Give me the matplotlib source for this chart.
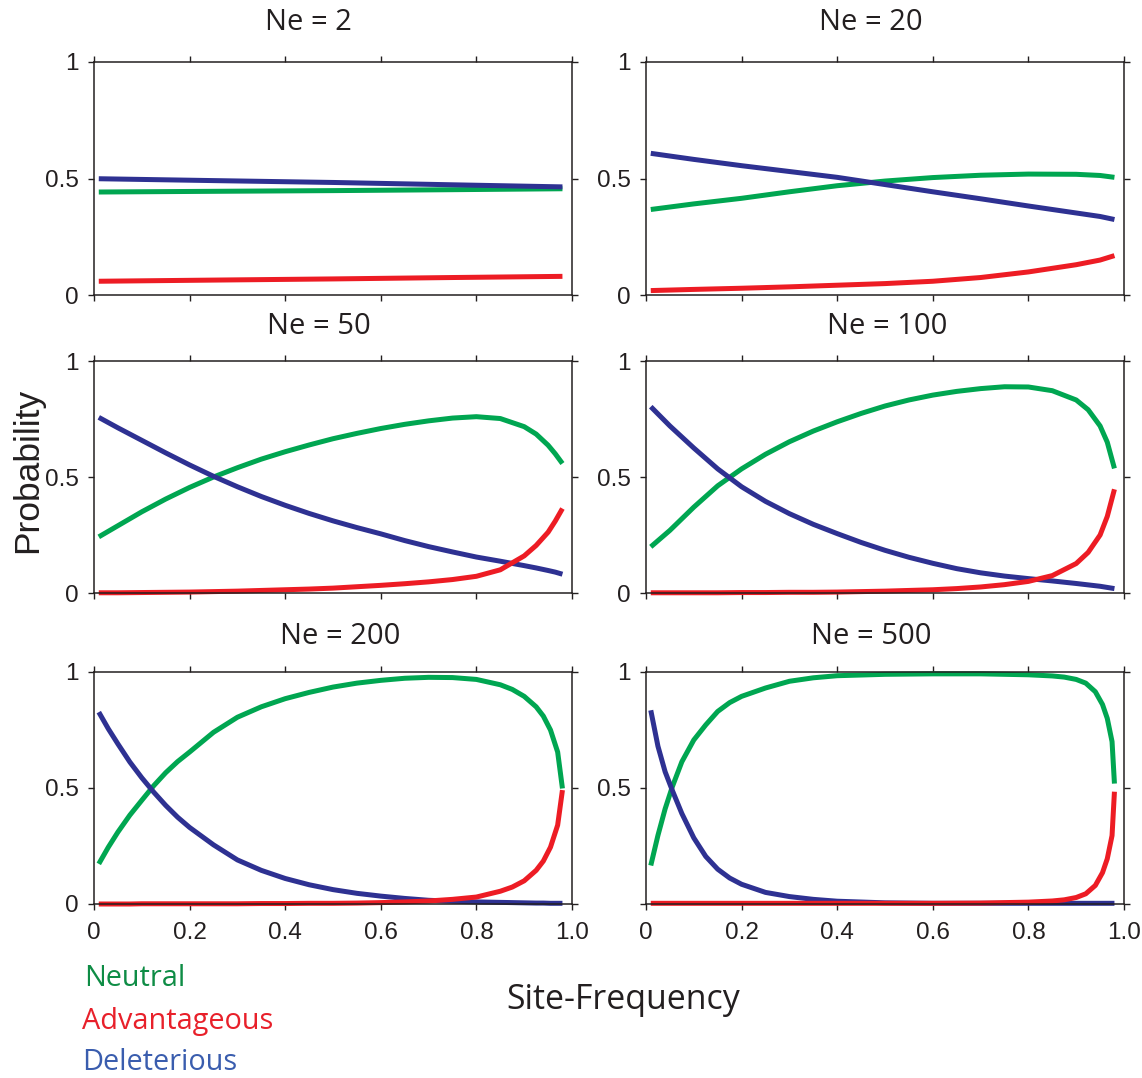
import numpy as np
import matplotlib.pyplot as plt

# probability curves per effective population size
x_ne2 = [0.01, 0.25, 0.5, 0.75, 0.98]
neu_ne2 = [0.442, 0.445, 0.448, 0.452, 0.456]
adv_ne2 = [0.059, 0.064, 0.069, 0.075, 0.080]
del_ne2 = [0.499, 0.491, 0.483, 0.473, 0.464]

x_ne20 = [0.01, 0.1, 0.2, 0.3, 0.4, 0.5, 0.6, 0.7, 0.8, 0.9, 0.95, 0.98]
neu_ne20 = [0.367, 0.391, 0.415, 0.443, 0.469, 0.489, 0.504, 0.514, 0.519, 0.518, 0.513, 0.505]
adv_ne20 = [0.019, 0.024, 0.029, 0.035, 0.042, 0.049, 0.059, 0.075, 0.099, 0.130, 0.150, 0.169]
del_ne20 = [0.608, 0.582, 0.555, 0.530, 0.505, 0.474, 0.443, 0.413, 0.382, 0.352, 0.337, 0.324]

x_ne50 = [0.01, 0.05, 0.1, 0.15, 0.2, 0.25, 0.3, 0.35, 0.4, 0.45, 0.5, 0.55, 0.6, 0.65,
          0.7, 0.75, 0.8, 0.85, 0.9, 0.925, 0.95, 0.965, 0.98]
neu_ne50 = [0.242, 0.290, 0.350, 0.405, 0.455, 0.500, 0.540, 0.577, 0.609, 0.638, 0.665,
            0.688, 0.709, 0.727, 0.742, 0.754, 0.760, 0.752, 0.717, 0.685, 0.637, 0.600, 0.558]
adv_ne50 = [0.001, 0.001, 0.002, 0.003, 0.004, 0.006, 0.008, 0.011, 0.014, 0.017, 0.021,
            0.027, 0.033, 0.040, 0.048, 0.058, 0.072, 0.100, 0.160, 0.205, 0.262, 0.310, 0.364]
del_ne50 = [0.757, 0.712, 0.658, 0.604, 0.552, 0.503, 0.458, 0.416, 0.378, 0.343, 0.311,
            0.282, 0.255, 0.226, 0.200, 0.177, 0.155, 0.137, 0.118, 0.108, 0.097, 0.090, 0.081]

x_ne100 = [0.01, 0.05, 0.1, 0.15, 0.2, 0.25, 0.3, 0.35, 0.4, 0.45, 0.5, 0.55, 0.6, 0.65,
           0.7, 0.75, 0.8, 0.85, 0.9, 0.925, 0.95, 0.965, 0.98]
neu_ne100 = [0.199, 0.270, 0.370, 0.462, 0.535, 0.598, 0.652, 0.698, 0.738, 0.774, 0.806,
             0.832, 0.853, 0.869, 0.881, 0.889, 0.888, 0.872, 0.832, 0.790, 0.720, 0.650, 0.537]
adv_ne100 = [0.001, 0.001, 0.001, 0.001, 0.002, 0.002, 0.003, 0.003, 0.004, 0.006, 0.008,
             0.011, 0.014, 0.019, 0.026, 0.036, 0.050, 0.075, 0.127, 0.175, 0.250, 0.330, 0.447]
del_ne100 = [0.803, 0.720, 0.625, 0.535, 0.458, 0.395, 0.342, 0.296, 0.256, 0.218, 0.184,
             0.154, 0.128, 0.105, 0.087, 0.073, 0.062, 0.052, 0.041, 0.035, 0.029, 0.024, 0.019]

x_ne200 = [0.01, 0.03, 0.05, 0.075, 0.1, 0.125, 0.15, 0.175, 0.2, 0.25, 0.3, 0.35, 0.4,
           0.45, 0.5, 0.55, 0.6, 0.65, 0.7, 0.75, 0.8, 0.85, 0.875, 0.9, 0.925, 0.94,
           0.955, 0.97, 0.98]
neu_ne200 = [0.173, 0.245, 0.310, 0.383, 0.447, 0.510, 0.566, 0.614, 0.655, 0.740, 0.805,
             0.850, 0.885, 0.912, 0.935, 0.952, 0.964, 0.973, 0.977, 0.976, 0.968, 0.945,
             0.925, 0.895, 0.850, 0.810, 0.750, 0.655, 0.498]
adv_ne200 = [0.000, 0.000, 0.000, 0.000, 0.001, 0.001, 0.001, 0.001, 0.001, 0.001, 0.001,
             0.002, 0.002, 0.003, 0.003, 0.004, 0.006, 0.009, 0.013, 0.020, 0.030, 0.055,
             0.073, 0.100, 0.145, 0.185, 0.245, 0.340, 0.491]
del_ne200 = [0.827, 0.755, 0.690, 0.612, 0.544, 0.482, 0.425, 0.374, 0.330, 0.255, 0.190,
             0.145, 0.110, 0.083, 0.062, 0.046, 0.034, 0.024, 0.016, 0.012, 0.009, 0.007,
             0.006, 0.005, 0.004, 0.004, 0.003, 0.003, 0.003]

x_ne500 = [0.01, 0.025, 0.04, 0.055, 0.075, 0.1, 0.125, 0.15, 0.175, 0.2, 0.25, 0.3, 0.35,
           0.4, 0.5, 0.6, 0.7, 0.8, 0.85, 0.875, 0.9, 0.92, 0.94, 0.955, 0.965, 0.975, 0.98]
neu_ne500 = [0.166, 0.296, 0.410, 0.505, 0.613, 0.707, 0.772, 0.830, 0.868, 0.895, 0.931,
             0.960, 0.975, 0.984, 0.990, 0.992, 0.992, 0.988, 0.983, 0.978, 0.968, 0.952,
             0.915, 0.860, 0.800, 0.700, 0.519]
adv_ne500 = [0.003, 0.003, 0.003, 0.003, 0.003, 0.003, 0.003, 0.003, 0.003, 0.003, 0.003,
             0.003, 0.003, 0.003, 0.003, 0.003, 0.004, 0.008, 0.013, 0.018, 0.028, 0.044,
             0.080, 0.135, 0.195, 0.295, 0.484]
del_ne500 = [0.835, 0.680, 0.570, 0.490, 0.390, 0.285, 0.205, 0.150, 0.112, 0.085, 0.050,
             0.032, 0.020, 0.012, 0.005, 0.003, 0.003, 0.003, 0.003, 0.003, 0.003, 0.003,
             0.003, 0.003, 0.003, 0.003, 0.003]

panels = [
    ("Ne = 2", x_ne2, neu_ne2, adv_ne2, del_ne2),
    ("Ne = 20", x_ne20, neu_ne20, adv_ne20, del_ne20),
    ("Ne = 50", x_ne50, neu_ne50, adv_ne50, del_ne50),
    ("Ne = 100", x_ne100, neu_ne100, adv_ne100, del_ne100),
    ("Ne = 200", x_ne200, neu_ne200, adv_ne200, del_ne200),
    ("Ne = 500", x_ne500, neu_ne500, adv_ne500, del_ne500),
]

GREEN = "#00A651"
RED = "#ED1C24"
BLUE = "#2E3192"
INK = "#231F20"
TICK_FONT = "Liberation Sans"
TEXT_FONT = "Open Sans"

W, H = 1142, 1078
fig = plt.figure(figsize=(W / 100, H / 100), dpi=100)

# axes boxes in pixels: left, top, right, bottom
cols = [(94, 572), (646, 1124)]
rows = [(62, 295), (361, 593), (672, 904)]
# title centres (pixels)
title_pos = [(308, 22), (871, 22), (319, 327), (887, 327), (340, 637), (871, 637)]

for i, (name, xs, neu, adv, dele) in enumerate(panels):
    r, c = divmod(i, 2)
    l, rr = cols[c]
    t, b = rows[r]
    ax = fig.add_axes([l / W, (H - b) / H, (rr - l) / W, (b - t) / H])
    for ys, col in [(neu, GREEN), (dele, BLUE), (adv, RED)]:
        ax.plot(xs, ys, color=col, lw=3.6, solid_capstyle="butt",
                solid_joinstyle="round", clip_on=False)
    ax.set_xlim(0, 1)
    ax.set_ylim(0, 1)
    ax.set_xticks([0, 0.2, 0.4, 0.6, 0.8, 1.0])
    ax.set_yticks([0, 0.5, 1])
    for s in ax.spines.values():
        s.set_color(INK)
        s.set_linewidth(1.1)
    ax.tick_params(direction="out", length=4, width=1.0, color=INK,
                   top=True, right=True, labelsize=17.5, labelcolor=INK)
    ax.tick_params(axis="y", pad=7)
    ax.tick_params(axis="x", pad=9)
    if r == 2:
        ax.set_xticklabels(["0", "0.2", "0.4", "0.6", "0.8", "1.0"], family=TICK_FONT)
    else:
        ax.set_xticklabels([])
    if i == 5:
        ax.set_yticklabels(["", "0.5", "1"], family=TICK_FONT)
    else:
        ax.set_yticklabels(["0", "0.5", "1"], family=TICK_FONT)
    tx, ty = title_pos[i]
    fig.text(tx / W, 1 - ty / H, name, ha="center", va="center",
             family=TEXT_FONT, fontsize=21, color=INK)

fig.text(28 / W, 1 - 470 / H, "Probability", rotation=90, ha="center", va="center",
         family=TICK_FONT, fontsize=25.5, color=INK)
fig.text(623 / W, 1 - 1000 / H, "Site-Frequency", ha="center", va="center",
         family=TEXT_FONT, fontsize=24.4, color=INK)

# colour key in the lower left corner
fig.text(84 / W, 1 - 978 / H, "Neutral", ha="left", va="center",
         family=TEXT_FONT, fontsize=20.8, color="#0E8C45")
fig.text(82 / W, 1 - 1021 / H, "Advantageous", ha="left", va="center",
         family=TEXT_FONT, fontsize=20.8, color="#E8202A")
fig.text(82 / W, 1 - 1062 / H, "Deleterious", ha="left", va="center",
         family=TEXT_FONT, fontsize=20.8, color="#3A5DAE")

fig.savefig("out.png", dpi=100)
